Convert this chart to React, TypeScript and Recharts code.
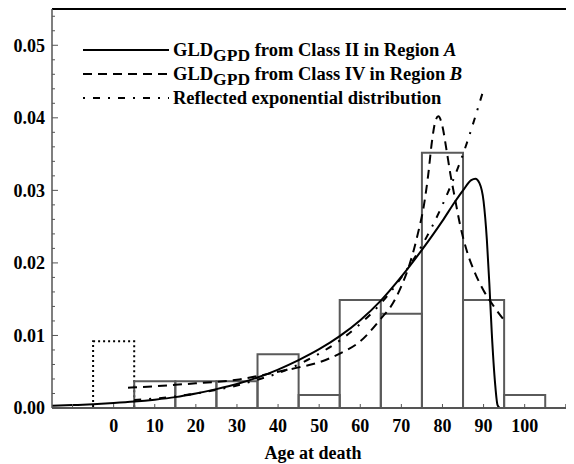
import React from 'react';
import { ComposedChart, Line, XAxis, YAxis, ReferenceArea, ReferenceLine, Legend } from 'recharts';

// Histogram (bin centres in years, density)
const binCenters = [0, 10, 20, 30, 40, 50, 60, 70, 80, 90, 100];
const binDensity = [0.0092, 0.0037, 0.0037, 0.0037, 0.0074, 0.0018, 0.0149, 0.013, 0.0352, 0.0149, 0.0018];
const binHalfWidth = 5;

// GLD_GPD from Class II in Region A (solid)
const solidAges = [-15, -10, -5, 0, 5, 10, 15, 20, 25, 30, 35, 40, 45, 50, 55, 60, 65, 70, 75, 80, 83, 85, 87, 88, 89, 90, 90.8, 91.4, 92, 92.8, 93.4, 94];
const solidVals = [0.0003, 0.0004, 0.00052, 0.00068, 0.00088, 0.00115, 0.0015, 0.002, 0.0026, 0.0033, 0.0042, 0.0053, 0.0066, 0.0081, 0.0099, 0.0121, 0.0148, 0.0181, 0.0218, 0.0258, 0.0284, 0.03, 0.0314, 0.0316, 0.031, 0.0285, 0.0232, 0.0172, 0.0103, 0.0034, 0.0004, 0];

// GLD_GPD from Class IV in Region B (dashed)
const dashedAges = [3.5, 10, 15, 20, 25, 30, 35, 40, 45, 50, 55, 60, 65, 68, 70, 72, 74, 75.5, 76.5, 77.5, 78.3, 79, 80, 81, 82, 83, 84.3, 86, 88, 90, 92.5, 95];
const dashedVals = [0.0028, 0.003, 0.0032, 0.0034, 0.0036, 0.0039, 0.0044, 0.005, 0.0056, 0.0063, 0.0075, 0.0092, 0.0123, 0.0145, 0.0168, 0.0198, 0.024, 0.028, 0.032, 0.037, 0.0396, 0.0402, 0.0388, 0.0355, 0.032, 0.029, 0.0252, 0.0215, 0.0185, 0.0162, 0.014, 0.0121];

// Reflected exponential distribution (dash-dot)
const expAges = [5, 10, 15, 20, 25, 30, 35, 40, 45, 50, 55, 60, 65, 70, 75, 80, 85, 90];
const expVals = [0.0011, 0.0013, 0.0016, 0.002, 0.0025, 0.0031, 0.0039, 0.0048, 0.006, 0.0075, 0.0093, 0.0116, 0.0144, 0.018, 0.0224, 0.028, 0.035, 0.0439];

const yMajorTicks = [0, 0.01, 0.02, 0.03, 0.04, 0.05];
const yMinorTicks = [0.002, 0.004, 0.006, 0.008, 0.012, 0.014, 0.016, 0.018, 0.022, 0.024, 0.026, 0.028, 0.032, 0.034, 0.036, 0.038, 0.042, 0.044, 0.046, 0.048, 0.052, 0.054];
const xTicks = [-10, 0, 10, 20, 30, 40, 50, 60, 70, 80, 90, 100, 110];
const xLabelled = [0, 10, 20, 30, 40, 50, 60, 70, 80, 90, 100];

const solidData = solidAges.map((a, i) => ({ age: a, v: solidVals[i] }));
const dashedData = dashedAges.map((a, i) => ({ age: a, v: dashedVals[i] }));
const expData = expAges.map((a, i) => ({ age: a, v: expVals[i] }));

const FONT = '"Liberation Serif", "Times New Roman", serif';
const AXIS_COLOR = '#555';
const BAR_COLOR = '#5a5a5a';
const TICK_FS = 18;

const Y_MARGIN = 7;
const X_MARGIN = 10;

const YTick = (props: any) => {
  const { x, y, payload } = props;
  const v = payload.value as number;
  const major = yMajorTicks.some((t) => Math.abs(t - v) < 1e-9);
  const axisX = x + Y_MARGIN;
  return (
    <g>
      <line x1={axisX} x2={axisX + (major ? 6 : 3)} y1={y} y2={y} stroke={AXIS_COLOR} strokeWidth={1} />
      {major && (
        <text x={x} y={y} dy="0.35em" textAnchor="end" fontFamily={FONT} fontWeight="bold" fontSize={TICK_FS} fill="#000">
          {v.toFixed(2)}
        </text>
      )}
    </g>
  );
};

const XTick = (props: any) => {
  const { x, y, payload } = props;
  const v = payload.value as number;
  const axisY = y - X_MARGIN;
  const show = xLabelled.includes(v);
  return (
    <g>
      <line x1={x} x2={x} y1={axisY} y2={axisY - 4} stroke={AXIS_COLOR} strokeWidth={1} />
      {show && (
        <text x={x} y={y} dy="0.78em" textAnchor="middle" fontFamily={FONT} fontWeight="bold" fontSize={TICK_FS} fill="#000">
          {v}
        </text>
      )}
    </g>
  );
};

const legendRows = [
  { dash: undefined as string | undefined, main: 'GLD', sub: 'GPD', rest: ' from Class II in Region ', it: 'A' },
  { dash: '9 6', main: 'GLD', sub: 'GPD', rest: ' from Class IV in Region ', it: 'B' },
  { dash: '2 8 7 8', main: 'Reflected exponential distribution', sub: '', rest: '', it: '' },
];

const LegendContent = () => (
  <div style={{ fontFamily: FONT, fontWeight: 'bold', fontSize: 18.5, color: '#000', lineHeight: '20px' }}>
    {legendRows.map((r, i) => (
      <div key={i} style={{ display: 'flex', alignItems: 'center', height: 24 }}>
        <svg width={86} height={10} style={{ display: 'block', flex: 'none' }}>
          <line x1={0} x2={86} y1={5} y2={5} stroke="#000" strokeWidth={2} strokeDasharray={r.dash} />
        </svg>
        <span style={{ marginLeft: 4, whiteSpace: 'nowrap' }}>
          {r.main}
          {r.sub && <span style={{ position: 'relative', top: 5, fontSize: 17.5 }}>{r.sub}</span>}
          {r.rest}
          {r.it && <i>{r.it}</i>}
        </span>
      </div>
    ))}
  </div>
);

export default function App() {
  return (
    <ComposedChart width={566} height={456} margin={{ top: 1, right: 0, left: 0, bottom: 0 }}>
      <XAxis
        dataKey="age"
        type="number"
        domain={[-15, 112]}
        allowDataOverflow
        ticks={xTicks}
        interval={0}
        tickSize={0}
        tickMargin={X_MARGIN}
        tick={<XTick />}
        tickLine={false}
        height={56}
        axisLine={{ stroke: AXIS_COLOR, strokeWidth: 2 }}
        label={{ value: 'Age at death', position: 'insideBottom', offset: 5, style: { fontFamily: FONT, fontWeight: 'bold', fontSize: TICK_FS, fill: '#000' } }}
      />
      <YAxis
        type="number"
        domain={[0, 0.055]}
        allowDataOverflow
        ticks={[...yMajorTicks, ...yMinorTicks]}
        interval={0}
        width={44}
        tickSize={0}
        tickMargin={Y_MARGIN}
        tick={<YTick />}
        tickLine={false}
        axisLine={{ stroke: AXIS_COLOR, strokeWidth: 1.5 }}
      />
      <ReferenceLine y={0.055} stroke="#000" strokeWidth={2} ifOverflow="visible" />
      {binCenters.map((c, i) => (
        <ReferenceArea
          key={c}
          x1={c - binHalfWidth}
          x2={c + binHalfWidth}
          y1={0}
          y2={binDensity[i]}
          fill="none"
          fillOpacity={0}
          stroke={i === 0 ? '#000' : BAR_COLOR}
          strokeWidth={2}
          strokeOpacity={1}
          strokeDasharray={i === 0 ? '2 3' : undefined}
          ifOverflow="visible"
        />
      ))}
      <Line data={solidData} dataKey="v" type="monotone" stroke="#000" strokeWidth={2} dot={false} activeDot={false} isAnimationActive={false} />
      <Line data={dashedData} dataKey="v" type="monotone" stroke="#000" strokeWidth={2} strokeDasharray="9 6" dot={false} activeDot={false} isAnimationActive={false} />
      <Line data={expData} dataKey="v" type="monotone" stroke="#000" strokeWidth={2} strokeDasharray="7 8 2 8" dot={false} activeDot={false} isAnimationActive={false} />
      <Legend
        layout="vertical"
        align="center"
        verticalAlign="middle"
        content={<LegendContent />}
        wrapperStyle={{ left: 75, top: 30, width: 440, height: 72 }}
      />
    </ComposedChart>
  );
}
